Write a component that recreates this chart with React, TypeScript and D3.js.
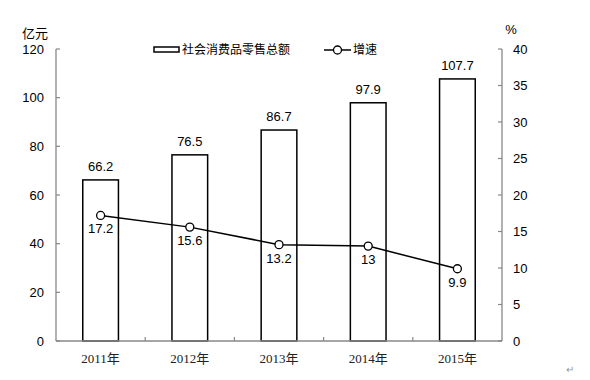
import React from "react";
import * as d3 from "d3";

const years = ["2011年", "2012年", "2013年", "2014年", "2015年"];
const sales = [66.2, 76.5, 86.7, 97.9, 107.7];
const growth = [17.2, 15.6, 13.2, 13, 9.9];
const leftTicks = [0, 20, 40, 60, 80, 100, 120];
const rightTicks = [0, 5, 10, 15, 20, 25, 30, 35, 40];

const W = 590, H = 380;
const M = { left: 56, right: 502, top: 49, bottom: 341 };
const sans = "Arial, 'Liberation Sans', sans-serif";
const cjk = "'Noto Sans CJK SC', sans-serif";
const serif = "'Liberation Serif', 'DejaVu Serif', 'Noto Sans CJK SC', serif";
const axisColor = "#888";

export default function App() {
  const x = d3.scaleBand<string>().domain(years).range([M.left, M.right]).paddingInner(0.6).paddingOuter(0.3);
  const band = d3.scaleBand<string>().domain(years).range([M.left, M.right]);
  const yL = d3.scaleLinear().domain([0, 120]).range([M.bottom, M.top]);
  const yR = d3.scaleLinear().domain([0, 40]).range([M.bottom, M.top]);
  const cx = (d: string) => band(d)! + band.bandwidth() / 2;
  const line = d3.line<number>().x((_, i) => cx(years[i])).y((d) => yR(d));

  return (
    <svg width={W} height={H} style={{ position: "fixed", left: 0, top: 0, background: "#fff" }}>
      <rect width={W} height={H} fill="#fff" />
      {sales.map((v, i) => (
        <rect key={i} x={x(years[i])} y={yL(v)} width={x.bandwidth()} height={yL(0) - yL(v)}
          fill="#fff" stroke="#000" strokeWidth={1.5} />
      ))}
      {sales.map((v, i) => (
        <text key={"sl" + i} x={cx(years[i])} y={yL(v) - 9} textAnchor="middle" fontFamily={sans} fontSize={13}>{v}</text>
      ))}
      <line x1={M.left} x2={M.left} y1={M.top} y2={M.bottom} stroke={axisColor} strokeWidth={1.3} />
      <line x1={M.right} x2={M.right} y1={M.top} y2={M.bottom} stroke={axisColor} strokeWidth={1.3} />
      <line x1={M.left} x2={M.right} y1={M.bottom} y2={M.bottom} stroke={axisColor} strokeWidth={1.3} />
      {leftTicks.map((t) => (
        <g key={"lt" + t}>
          <line x1={M.left} x2={M.left + 4} y1={yL(t)} y2={yL(t)} stroke={axisColor} strokeWidth={1.2} />
          <text x={M.left - 12} y={yL(t)} dy="0.35em" textAnchor="end" fontFamily={sans} fontSize={13}>{t}</text>
        </g>
      ))}
      {rightTicks.map((t) => (
        <g key={"rt" + t}>
          <line x1={M.right - 4} x2={M.right} y1={yR(t)} y2={yR(t)} stroke={axisColor} strokeWidth={1.2} />
          <text x={M.right + 11} y={yR(t)} dy="0.35em" textAnchor="start" fontFamily={sans} fontSize={13}>{t}</text>
        </g>
      ))}
      {years.slice(1).map((y) => (
        <line key={"bt" + y} x1={band(y)} x2={band(y)} y1={M.bottom - 4} y2={M.bottom} stroke={axisColor} strokeWidth={1.2} />
      ))}
      {years.map((y) => (
        <text key={"yl" + y} x={cx(y)} y={M.bottom + 17} dy="0.35em" textAnchor="middle" fontFamily={serif} fontSize={13} fill="#222">{y}</text>
      ))}
      <path d={line(growth)!} fill="none" stroke="#000" strokeWidth={1.5} />
      {growth.map((v, i) => (
        <circle key={"c" + i} cx={cx(years[i])} cy={yR(v)} r={4} fill="#fff" stroke="#000" strokeWidth={1.3} />
      ))}
      {growth.map((v, i) => (
        <text key={"gl" + i} x={cx(years[i])} y={yR(v) + 13.5} dy="0.35em" textAnchor="middle" fontFamily={sans} fontSize={13}>{v}</text>
      ))}
      <text x={35} y={33} dy="0.35em" textAnchor="middle" fontFamily={cjk} fontSize={13}>亿元</text>
      <text x={511} y={29} dy="0.35em" textAnchor="middle" fontFamily={sans} fontSize={13}>%</text>
      <rect x={154} y={47} width={25} height={5} fill="#fff" stroke="#000" strokeWidth={1.5} />
      <text x={182} y={50} dy="0.35em" fontFamily={cjk} fontSize={12}>社会消费品零售总额</text>
      <line x1={324} x2={351} y1={50} y2={50} stroke="#000" strokeWidth={1.5} />
      <circle cx={337.5} cy={50} r={4} fill="#fff" stroke="#000" strokeWidth={1.3} />
      <text x={353} y={50} dy="0.35em" fontFamily={cjk} fontSize={12}>增速</text>
      <text x={566} y={369} dy="0.35em" fontFamily={sans} fontSize={10} fill="#999">↵</text>
    </svg>
  );
}
